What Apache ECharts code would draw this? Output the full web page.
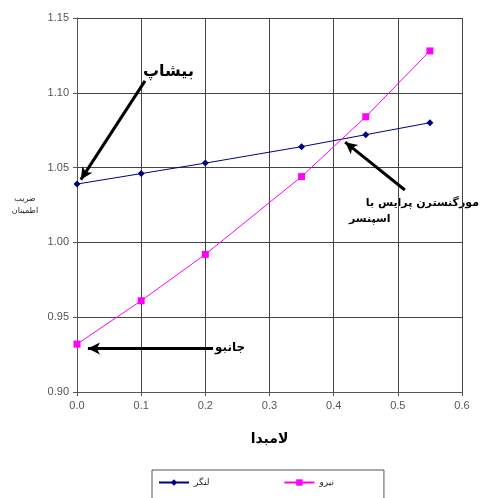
<!DOCTYPE html>
<html><head><meta charset="utf-8">
<script src="https://cdn.jsdelivr.net/npm/echarts@6/dist/echarts.min.js"></script>
<style>html,body{margin:0;padding:0;background:#fff}#c{width:481px;height:498px}</style>
</head><body><div id="c"></div>
<script>
const lambda = [0.0, 0.1, 0.2, 0.35, 0.45, 0.55];
const momentFS = [1.039, 1.046, 1.053, 1.064, 1.072, 1.080];
const forceFS = [0.932, 0.961, 0.992, 1.044, 1.084, 1.128];
const seriesNames = ['لنگر', 'نیرو'];
const xTicks = [0, 0.6, 0.1];
const yTicks = [0.90, 1.15, 0.05];
const arrows = [
  {from: [0.106, 1.108], to: [0.006, 1.042]},
  {from: [0.511, 1.035], to: [0.418, 1.067]},
  {from: [0.212, 0.929], to: [0.017, 0.929]}
];

const chart = echarts.init(document.getElementById('c'));
const font = 'Liberation Sans, Arial, sans-serif';
chart.setOption({
  animation: false,
  textStyle: {fontFamily: font},
  grid: {left: 77, right: 19, top: 18, bottom: 106},
  xAxis: {
    type: 'value', min: xTicks[0], max: xTicks[1], interval: xTicks[2],
    name: 'لامبدا', nameLocation: 'middle', nameGap: 40,
    nameTextStyle: {fontSize: 14, fontWeight: 'bold', color: '#000', fontFamily: 'DejaVu Sans'},
    axisLine: {lineStyle: {color: '#555'}},
    axisTick: {show: true, length: 4, lineStyle: {color: '#555'}},
    axisLabel: {formatter: v => v.toFixed(1), color: '#555', fontSize: 11, margin: 8},
    splitLine: {show: true, lineStyle: {color: '#444', width: 1}}
  },
  yAxis: {
    type: 'value', min: yTicks[0], max: yTicks[1], interval: yTicks[2],
    name: 'ضریب\nاطمینان', nameLocation: 'middle', nameRotate: 0, nameGap: 52,
    nameTextStyle: {fontSize: 8, color: '#222', lineHeight: 12, align: 'center', padding: [8, 0, 0, 0], fontFamily: 'DejaVu Sans'},
    axisLine: {show: true, lineStyle: {color: '#555'}},
    axisTick: {show: true, length: 4, lineStyle: {color: '#555'}},
    axisLabel: {formatter: v => v.toFixed(2), color: '#555', fontSize: 11, margin: 8},
    splitLine: {show: true, lineStyle: {color: '#444', width: 1}}
  },
  legend: {
    left: 152, top: 470,
    padding: [8, 50, 16, 6],
    borderColor: '#555', borderWidth: 1,
    itemWidth: 30, itemHeight: 8, itemGap: 74,
    textStyle: {fontSize: 9, color: '#222', fontFamily: 'DejaVu Sans'},
    data: seriesNames
  },
  graphic: [
    {type: 'text', left: 143, top: 64, style: {text: 'بیشاپ', font: 'bold 16px DejaVu Sans', fill: '#000'}},
    {type: 'text', right: 2, top: 198, style: {text: 'مورگنسترن پرایس با', font: 'bold 11px DejaVu Sans', fill: '#000'}},
    {type: 'text', left: 349, top: 214, style: {text: 'اسپنسر', font: 'bold 11px DejaVu Sans', fill: '#000'}},
    {type: 'text', left: 215, top: 342, style: {text: 'جانبو', font: 'bold 12px DejaVu Sans', fill: '#000'}}
  ],
  series: [
    {
      name: seriesNames[0], type: 'line',
      data: lambda.map((x, i) => [x, momentFS[i]]),
      symbol: 'diamond', symbolSize: 7,
      lineStyle: {color: '#000080', width: 1},
      itemStyle: {color: '#000080'},
      markLine: {
        silent: true, symbol: ['none', 'arrow'], symbolSize: [9, 12],
        lineStyle: {color: '#000', width: 3, type: 'solid'},
        label: {show: false},
        data: arrows.map(a => [{coord: a.from}, {coord: a.to}])
      }
    },
    {
      name: seriesNames[1], type: 'line',
      data: lambda.map((x, i) => [x, forceFS[i]]),
      symbol: 'rect', symbolSize: 7,
      lineStyle: {color: '#ff00ff', width: 1},
      itemStyle: {color: '#ff00ff'}
    }
  ]
});
</script></body></html>
